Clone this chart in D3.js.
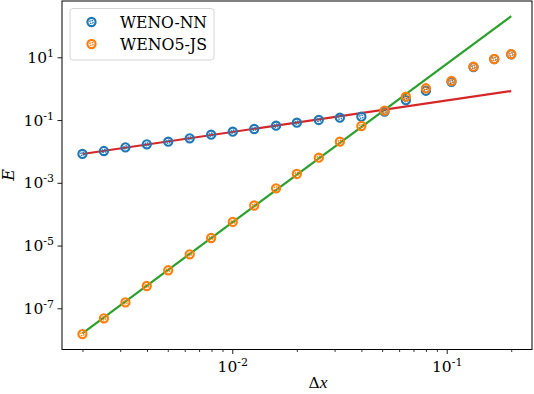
<!DOCTYPE html>
<html>
<head>
<meta charset="utf-8">
<script src="https://cdn.jsdelivr.net/npm/d3@7"></script>
<style>
  body { margin: 0; background: #fff; }
  svg { display: block; }
  text { font-family: "DejaVu Serif", serif; fill: #000; }
</style>
</head>
<body>
<svg id="chart" width="534" height="394"></svg>
<script>
// grid spacings, dx = 2/N
var gridN = [1000, 794, 630, 501, 398, 316, 251, 199, 158, 125, 100, 79, 63, 50, 39, 31, 25, 19, 15, 12, 10];
var dx = gridN.map(function(n) { return 2 / n; });

// error values
var wenoNN = [8.3e-3, 1.03e-2, 1.35e-2, 1.69e-2, 2.04e-2, 2.62e-2, 3.41e-2, 4.25e-2, 5.19e-2, 6.61e-2,
              8.24e-2, 0.1005, 0.119, 0.128, 0.185, 0.43, 0.86, 1.65, 4.9, 8.8, 12.4];
var weno5JS = [1.51e-8, 4.8e-8, 1.55e-7, 5.14e-7, 1.63e-6, 5.26e-6, 1.74e-5, 5.64e-5, 1.89e-4, 6.68e-4,
               1.91e-3, 6.31e-3, 2.04e-2, 6.46e-2, 0.199, 0.555, 1.03, 1.76, 5.01, 8.83, 12.5];

// reference slopes (end points)
var fitX = [0.002, 0.2];
var firstOrder = [8.3e-3, 0.84];
var fifthOrder = [1.6e-8, 205];

var seriesNames = ['WENO-NN', 'WENO5-JS'];
var seriesColors = ['#1f77b4', '#ff7f0e'];
var xTicks = [0.01, 0.1];
var xExp = ['-2', '-1'];
var yTicks = [1e1, 1e-1, 1e-3, 1e-5, 1e-7];
var yExp = ['1', '-1', '-3', '-5', '-7'];

var svg = d3.select('#chart'),
    margin = {top: 1, right: 2, bottom: 44.5, left: 62},
    width = 534 - margin.left - margin.right,
    height = 394 - margin.top - margin.bottom,
    g = svg.append('g').attr('transform', 'translate(' + margin.left + ',' + margin.top + ')');

var x = d3.scaleLog()
    .domain([Math.pow(10, -2.7943), Math.pow(10, -0.6021)])
    .range([0, width]);

var y = d3.scaleLog()
    .domain([Math.pow(10, -8.3131), Math.pow(10, 2.7944)])
    .range([height, 0]);

// x axis: major + minor
var minorX = [];
[0.001, 0.01, 0.1].forEach(function(dec) {
  for (var k = 2; k <= 9; k++) {
    var v = dec * k;
    if (v > x.domain()[0] && v < x.domain()[1]) minorX.push(v);
  }
});

g.append('g')
    .attr('transform', 'translate(0,' + height + ')')
    .call(d3.axisBottom(x).tickValues(minorX).tickSize(2.5).tickFormat(''))
    .call(function(a) { a.select('.domain').remove(); a.selectAll('line').attr('stroke-width', 0.8); });

var xAxis = g.append('g')
    .attr('transform', 'translate(0,' + height + ')')
    .call(d3.axisBottom(x).tickValues(xTicks).tickSize(4.5).tickFormat(''));
xAxis.select('.domain').remove();
xAxis.selectAll('line').attr('stroke-width', 0.9);
xAxis.selectAll('.tick text').remove();
xAxis.selectAll('.tick').append('text')
    .attr('y', 22)
    .attr('text-anchor', 'middle')
    .attr('font-size', 15.5)
    .each(function(d, i) {
      var t = d3.select(this);
      t.append('tspan').text('10');
      t.append('tspan').attr('dy', -6).attr('font-size', 11).text(xExp[i]);
    });

var yAxis = g.append('g')
    .call(d3.axisLeft(y).tickValues(yTicks).tickSize(4.5).tickFormat(''));
yAxis.select('.domain').remove();
yAxis.selectAll('line').attr('stroke-width', 0.9);
yAxis.selectAll('.tick text').remove();
yAxis.selectAll('.tick').append('text')
    .attr('x', -8)
    .attr('y', 5)
    .attr('text-anchor', 'end')
    .attr('font-size', 15.5)
    .each(function(d, i) {
      var t = d3.select(this);
      t.append('tspan').text('10');
      t.append('tspan').attr('dy', -6).attr('font-size', 11).text(yExp[i]);
    });

// fitted lines
var line = d3.line()
    .x(function(d) { return x(d[0]); })
    .y(function(d) { return y(d[1]); });

g.append('path')
    .datum(d3.zip(fitX, fifthOrder))
    .attr('d', line)
    .attr('fill', 'none')
    .attr('stroke', '#2ca02c')
    .attr('stroke-width', 2.2);

g.append('path')
    .datum(d3.zip(fitX, firstOrder))
    .attr('d', line)
    .attr('fill', 'none')
    .attr('stroke', '#d62728')
    .attr('stroke-width', 2.2);

function marker(sel, color) {
  sel.append('circle')
      .attr('r', 4.1)
      .attr('fill', 'none')
      .attr('stroke', color)
      .attr('stroke-width', 2.1);
  sel.append('circle')
      .attr('r', 1.7)
      .attr('fill', 'none')
      .attr('stroke', color)
      .attr('stroke-width', 1.3)
      .attr('stroke-dasharray', '1.5,0.9');
}

[wenoNN, weno5JS].forEach(function(vals, s) {
  g.append('g')
    .selectAll('g')
    .data(d3.zip(dx, vals))
    .enter().append('g')
      .attr('transform', function(d) { return 'translate(' + x(d[0]) + ',' + y(d[1]) + ')'; })
      .call(marker, seriesColors[s]);
});

// frame
g.append('rect')
    .attr('width', width)
    .attr('height', height)
    .attr('fill', 'none')
    .attr('stroke', '#000')
    .attr('stroke-width', 1);

// axis labels
svg.append('text')
    .attr('x', margin.left + x(0.01) + (x(0.1) - x(0.01)) * 0.4)
    .attr('y', 388)
    .attr('text-anchor', 'middle')
    .attr('font-size', 15.5)
    .html('Δ<tspan font-style="italic" font-family="Liberation Serif" font-size="17.5">x</tspan>');

svg.append('text')
    .attr('transform', 'translate(14,175) rotate(-90)')
    .attr('text-anchor', 'middle')
    .attr('font-size', 16)
    .attr('font-style', 'italic')
    .attr('font-family', 'Liberation Serif')
    .text('E');

// legend
var legend = svg.append('g').attr('transform', 'translate(70,8.5)');
legend.append('rect')
    .attr('width', 144)
    .attr('height', 51.5)
    .attr('rx', 3)
    .attr('fill', '#fff')
    .attr('fill-opacity', 0.8)
    .attr('stroke', '#d5d5d5')
    .attr('stroke-width', 1);

var items = legend.selectAll('.item')
    .data(seriesNames)
    .enter().append('g')
      .attr('class', 'item')
      .attr('transform', function(d, i) { return 'translate(0,' + (13.5 + i * 22) + ')'; });

items.each(function(d, i) {
  d3.select(this).append('g')
      .attr('transform', 'translate(21.5,0)')
      .call(marker, seriesColors[i]);
});

items.append('text')
    .attr('x', 50)
    .attr('y', 6)
    .attr('font-size', 17)
    .attr('textLength', 87)
    .attr('lengthAdjust', 'spacingAndGlyphs')
    .text(function(d) { return d; });
</script>
</body>
</html>
